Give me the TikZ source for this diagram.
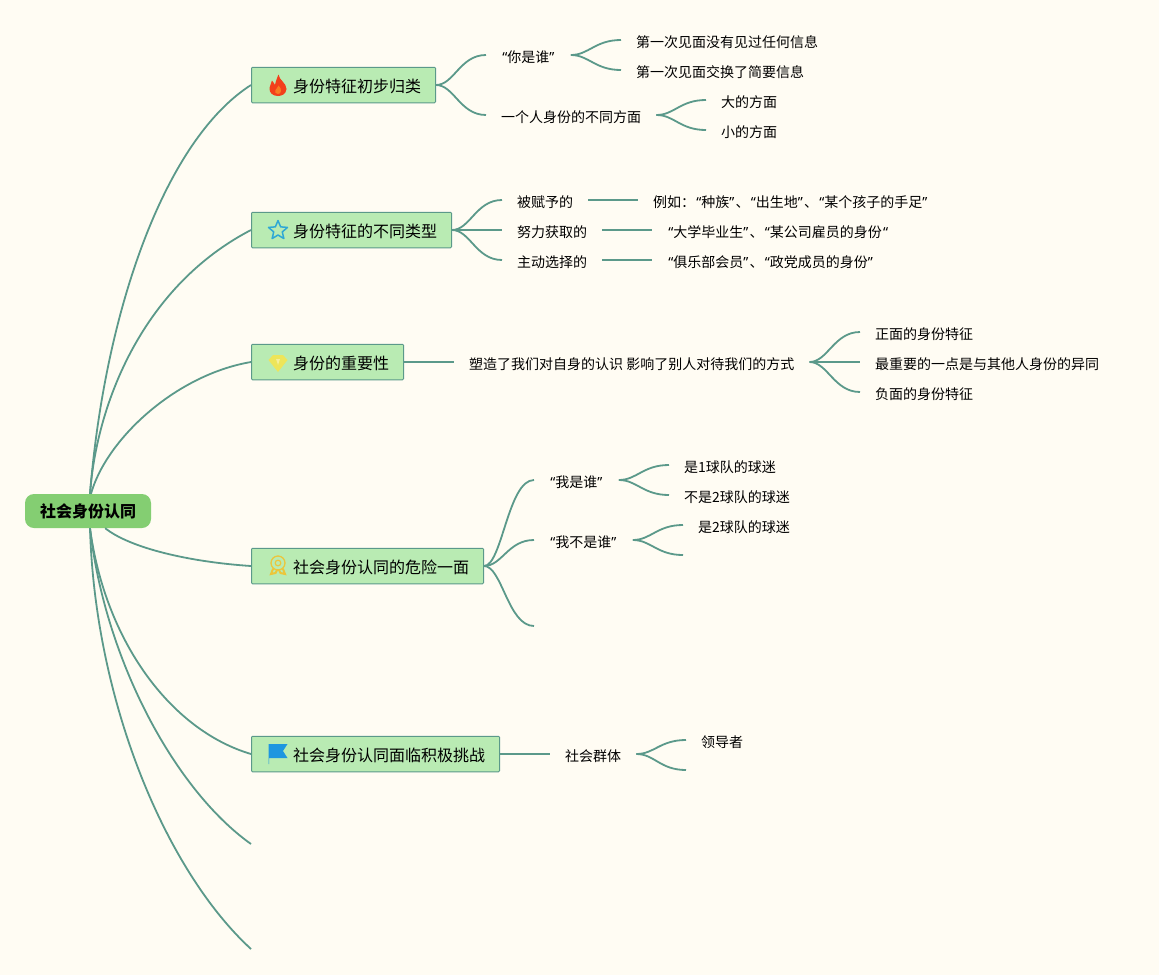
\documentclass[tikz,border=0pt]{standalone}
\usepackage{fontspec}
\setmainfont{Noto Sans CJK SC}
\newfontfamily\quotefont{Noto Sans}
\usetikzlibrary{arrows.meta}
\newcommand{\ql}{\kern1.2pt{\quotefont “}}
\newcommand{\qr}{{\quotefont ”}\kern1.2pt}
\definecolor{paper}{HTML}{FFFCF3}
\definecolor{linegreen}{HTML}{5B998A}
\definecolor{topicgreen}{HTML}{B9EBB3}
\definecolor{rootgreen}{HTML}{84CE72}
\definecolor{flamered}{HTML}{F2401B}
\definecolor{flameorange}{HTML}{F87A22}
\definecolor{starblue}{HTML}{2FA8D5}
\definecolor{gemyellow}{HTML}{EDE55A}
\definecolor{medalyellow}{HTML}{EBC63C}
\definecolor{flagblue}{HTML}{1E96E0}
\tikzset{
	rootbox/.style={
		fill=rootgreen, rounded corners=9pt, minimum width=126pt, minimum height=34pt, inner sep=0pt,
		font=\fontsize{16}{18}\selectfont\bfseries
	},
	topicbox/.style={
		draw=linegreen, fill=topicgreen, line width=1pt, rounded corners=1pt, anchor=west,
		minimum height=35.5pt, inner xsep=14.5pt, inner ysep=0pt, text height=15pt, text depth=0pt,
		font=\fontsize{16}{18}\selectfont
	},
	leaftext/.style={
		anchor=west, inner xsep=15pt, inner ysep=0pt, text height=14pt, text depth=0pt,
		font=\fontsize{14}{16}\selectfont
	},
	branch/.style={draw=linegreen, line width=1.8pt},
	flameicon/.pic={
		\fill[flamered] (0.5,11.5) .. controls (1,6) and (8.5,3) .. (8.5,-3) .. controls (8,-8) and (4,-10) .. (0,-10)
			.. controls (-5,-10) and (-9,-7) .. (-8.5,-2) .. controls (-8,1) and (-6.5,3) .. (-6,5.5)
			.. controls (-4.5,3.5) and (-3.5,2) .. (-3,1) .. controls (-2.5,4) and (-1,8) .. (0.5,11.5) -- cycle;
		\fill[flameorange] (0,-8) .. controls (-2.5,-8) and (-3.5,-6) .. (-2.5,-4) .. controls (-1.5,-2.5) and (0,-1) .. (0.5,0.5)
			.. controls (2,-1.5) and (3.5,-3) .. (3,-5) .. controls (2.5,-7) and (2,-8) .. (0,-8) -- cycle;
	},
	staricon/.pic={
		\draw[starblue, line width=1.5pt, line join=round] (90:10) -- (126:4.5) -- (162:10) -- (198:4.5) -- (234:10)
			-- (270:4.5) -- (306:10) -- (342:4.5) -- (18:10) -- (54:4.5) -- cycle;
	},
	gemicon/.pic={
		\fill[gemyellow] (-5,8) -- (5,8) -- (9.5,3) -- (0,-9) -- (-9.5,3) -- cycle;
		\fill[gemyellow!60!white] (-2,4) -- (2,4) -- (0,-2) -- cycle;
	},
	medalicon/.pic={
		\draw[medalyellow, line width=1.3pt] (0,3) circle (7);
		\draw[medalyellow, line width=1.2pt] (0,3) circle (2.8);
		\draw[medalyellow, line width=2pt, line cap=round] (-5,-3) -- (-7,-8) -- (-2.5,-7) -- (-1,-4);
		\draw[medalyellow, line width=2pt, line cap=round] (5,-3) -- (7,-8) -- (2.5,-7) -- (1,-4);
	},
	flagicon/.pic={
		\fill[flagblue] (-9.5,-10) -- (-9.5,10) -- (9.5,10) -- (5,3) -- (9.5,-4) -- (-8.8,-4) -- (-8.8,-10) -- cycle;
	}
}

\begin{document}
\begin{tikzpicture}[x=1pt, y=-1pt]
	\fill[paper] (0,0) rectangle (1159,975);
	\useasboundingbox (0,0) rectangle (1159,975);
	
	\node[rootbox] (root) at (88,511) {社会身份认同};
	
	\node[topicbox] (kinds) at (251,85) {\hspace*{27pt}身份特征初步归类};
	\node[topicbox] (types) at (251,230) {\hspace*{27pt}身份特征的不同类型};
	\node[topicbox] (weight) at (251,362) {\hspace*{27pt}身份的重要性};
	\node[topicbox] (danger) at (251,566) {\hspace*{27pt}社会身份认同的危险一面};
	\node[topicbox] (challenge) at (251,754) {\hspace*{27pt}社会身份认同面临积极挑战};
	
	\pic[yscale=-1] at (278,86) {flameicon};
	\pic[yscale=-1] at (278,230.5) {staricon};
	\pic[yscale=-1] at (278,363) {gemicon};
	\pic[yscale=-1] at (278,566) {medalicon};
	\pic[yscale=-1] at (278,754) {flagicon};
	
	\coordinate (rootend6) at (251,844);
	\coordinate (rootend7) at (251,949);
	\coordinate (dangerend) at (534,626);
	\coordinate (notmeend) at (683,555);
	\coordinate (groupend) at (686,770);
	
	\node[leaftext] (who) at (486,55) {\ql 你是谁\qr};
	\node[leaftext] (who1) at (621,40) {第一次见面没有见过任何信息};
	\node[leaftext] (who2) at (621,70) {第一次见面交换了简要信息};
	\node[leaftext] (aspect) at (486,115) {一个人身份的不同方面};
	\node[leaftext] (aspect1) at (706,100) {大的方面};
	\node[leaftext] (aspect2) at (706,130) {小的方面};
	
	\node[leaftext] (given) at (502,200) {被赋予的};
	\node[leaftext] (given1) at (638,200) {例如：\ql 种族\qr、\ql 出生地\qr、\ql 某个孩子的手足\qr};
	\node[leaftext] (earned) at (502,230) {努力获取的};
	\node[leaftext] (earned1) at (652,230) {\ql 大学毕业生\qr、\ql 某公司雇员的身份\ql};
	\node[leaftext] (chosen) at (502,260) {主动选择的};
	\node[leaftext] (chosen1) at (652,260) {\ql 俱乐部会员\qr、\ql 政党成员的身份\qr};
	
	\node[leaftext] (shape) at (454,362) {塑造了我们对自身的认识 影响了别人对待我们的方式};
	\node[leaftext] (shape1) at (860,332) {正面的身份特征};
	\node[leaftext] (shape2) at (860,362) {最重要的一点是与其他人身份的异同};
	\node[leaftext] (shape3) at (860,392) {负面的身份特征};
	
	\node[leaftext] (me) at (534,480) {\ql 我是谁\qr};
	\node[leaftext] (me1) at (669,465) {是1球队的球迷};
	\node[leaftext] (me2) at (669,495) {不是2球队的球迷};
	\node[leaftext] (notme) at (534,540) {\ql 我不是谁\qr};
	\node[leaftext] (notme1) at (683,525) {是2球队的球迷};
	
	\node[leaftext] (group) at (550,754) {社会群体};
	\node[leaftext] (group1) at (686,740) {领导者};
	
	\draw[branch] (root.north) ++(2,0) .. controls +(15,-184) and +(-86,55) .. (kinds.west);
	\draw[branch] (root.north) ++(2,0) .. controls +(7,-94) and +(-106,55) .. (types.west);
	\draw[branch] (root.north) ++(3,0) .. controls +(15,-54) and +(-76,13) .. (weight.west);
	\draw[branch] (root.-45) .. controls +(25,20) and +(-61,-4) .. (danger.west);
	\draw[branch] (root.south) ++(2,0) .. controls +(15,112) and +(-81,-24) .. (challenge.west);
	\draw[branch] (root.south) ++(2,0) .. controls +(15,132) and +(-76,-54) .. (rootend6);
	\draw[branch] (root.south) ++(2,0) .. controls +(5,172) and +(-86,-79) .. (rootend7);
	
	\foreach \a/\b in {kinds/who, kinds/aspect, who/who1, who/who2, aspect/aspect1, aspect/aspect2,
			types/given, types/earned, types/chosen, given/given1, earned/earned1, chosen/chosen1,
			weight/shape, shape/shape1, shape/shape2, shape/shape3,
			danger/me, danger/notme, me/me1, me/me2, notme/notme1,
			challenge/group, group/group1} {
		\draw[branch] (\a.east) .. controls +(18,0) and +(-26,0) .. (\b.west);
	}
	\draw[branch] (danger.east) .. controls +(18,0) and +(-26,0) .. (dangerend);
	\draw[branch] (notme.east) .. controls +(18,0) and +(-26,0) .. (notmeend);
	\draw[branch] (group.east) .. controls +(18,0) and +(-26,0) .. (groupend);
	
\end{tikzpicture}
\end{document}
